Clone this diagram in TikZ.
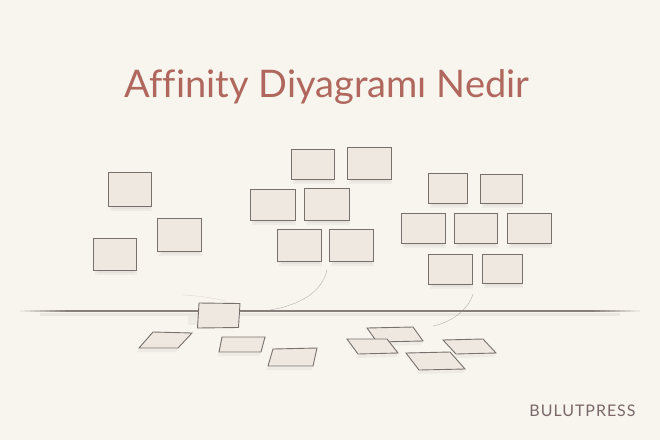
\documentclass[tikz,border=0pt]{standalone}
\usepackage{fontspec}
\setmainfont{Lato}[Ligatures=NoCommon]
\definecolor{paper}{HTML}{F8F5EF}
\definecolor{notefill}{HTML}{EEE8E1}
\definecolor{noteline}{HTML}{77706C}
\definecolor{titlered}{HTML}{B0675E}
\definecolor{brandgrey}{HTML}{7A686A}
\tikzset{note/.style={fill=notefill,draw=noteline,line width=0.9pt},
  noteshadow/.style={fill=noteline,opacity=0.07},
  floor/.style={draw=noteline!90,line width=1.3pt},
  thread/.style={draw=noteline!55,line width=0.4pt}}

\begin{document}
\begin{tikzpicture}[x=1pt,y=-1pt]
    \fill[paper] (0,0) rectangle (660,440);
    \node[anchor=base,text=titlered,font=\fontsize{38}{40}\selectfont] (title) at (327,97) {Affinity Diyagramı Nedir};
    \node[anchor=base east,text=brandgrey,font=\fontsize{16}{18}\selectfont\addfontfeatures{LetterSpace=6}] (brand) at (639,416) {BULUTPRESS};
    \draw[thread] (327,270) .. controls (322,292) and (300,305) .. (270,310);
    \draw[thread] (473,294) .. controls (468,310) and (452,322) .. (433,326);
    \draw[thread,opacity=0.4] (183,295) .. controls (200,296) and (215,298) .. (225,301);
    \draw[floor] (70,311) -- (590,311);
    \foreach \i in {1,...,10}
    {
      \draw[floor,opacity=\i/10] ({15+5*\i},311) -- ({20+5*\i},311);
      \draw[floor,opacity=\i/10] ({645-5*\i},311) -- ({640-5*\i},311);
    }
    \fill[noteline,opacity=0.1] (40,313) rectangle (620,315.5);
    \foreach \xa/\ya/\xb/\yb in {108/172/151/206, 157/218/201/251, 93/238/136/270,
      291/149/334/179, 347/147/391/179, 250/189/295/220, 304/188/349/220,
      277/229/321/261, 329/229/373/261,
      428/173/467/203, 480/174/522/203, 401/213/445/243, 454/213/497/243,
      507/213/551/243, 428/254/472/284, 482/254/522/283}
    {
      \fill[noteshadow] (\xa+2,\yb-2) rectangle (\xb+1,\yb+5);
      \fill[noteshadow] (\xa+4,\yb) rectangle (\xb-1,\yb+3);
      \draw[note] (\xa,\ya) rectangle (\xb,\yb);
    }
    \fill[noteshadow] (188,316) rectangle (199,325);
    \draw[note] (199,303) -- (240,303.5) -- (238.5,327.5) -- (197.5,328) -- cycle;
    \foreach \ax/\ay/\bx/\by/\cx/\cy/\dx/\dy in {153/332/192/333/178/348/139/348,
      222/337/265/337/261/352/219/352, 273/349/317/348/313/366/268/366,
      367/328/413/327/423/341/377/342, 347/339/387/339/398/353/358/354,
      443/340/483/339/496/353/456/354, 406/353/450/352/465/369/419/370}
    {
      \fill[noteshadow] (\dx,\dy+1) -- (\cx,\cy+1) -- (\cx-2,\cy+4) -- (\dx-2,\dy+4) -- cycle;
      \draw[note] (\ax,\ay) -- (\bx,\by) -- (\cx,\cy) -- (\dx,\dy) -- cycle;
    }
\end{tikzpicture}
\end{document}
